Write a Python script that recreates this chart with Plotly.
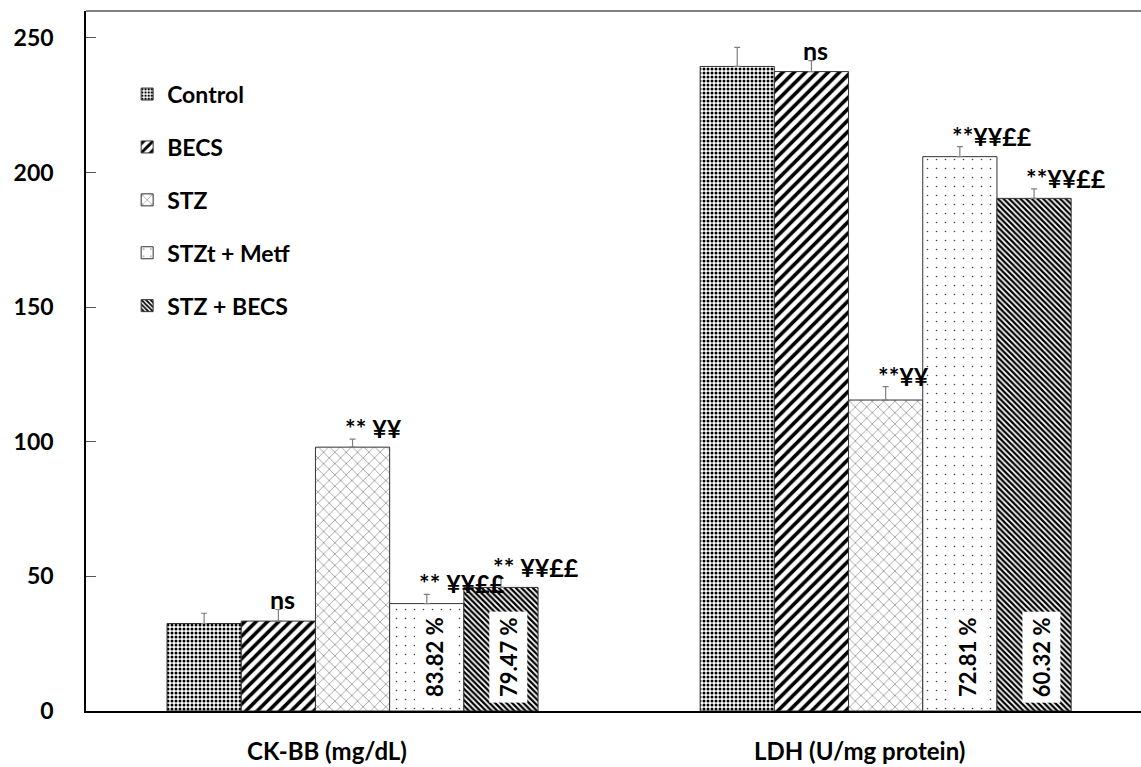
import plotly.graph_objects as go

categories = ["CK-BB (mg/dL)", "LDH (U/mg protein)"]
groups = ["Control", "BECS", "STZ", "STZt + Metf", "STZ + BECS"]

ck_values = [32.5, 33.4, 98.0, 39.9, 45.9]
ck_errors = [3.8, 4.3, 3.0, 3.4, 3.4]
ldh_values = [239.4, 237.5, 115.5, 205.9, 190.4]
ldh_errors = [7.1, 4.1, 5.0, 3.7, 3.5]

ck_sig = ["", "ns", "** ¥¥", "** ¥¥££", "** ¥¥££"]
ldh_sig = ["", "ns", "**¥¥", "**¥¥££", "**¥¥££"]
ck_pct = ["", "", "", "83.82 %", "79.47 %"]
ldh_pct = ["", "", "", "72.81 %", "60.32 %"]

y_ticks = [0, 50, 100, 150, 200, 250]

patterns = [
    dict(shape=".", size=4, solidity=0.45, fgcolor="#000000", fgopacity=1, bgcolor="white", fillmode="overlay"),
    dict(shape="/", size=8, solidity=0.45, fgcolor="#000000", fgopacity=1, bgcolor="white", fillmode="overlay"),
    dict(shape="x", size=8, solidity=0.15, fgcolor="#777777", fgopacity=1, bgcolor="white", fillmode="overlay"),
    dict(shape=".", size=9, solidity=0.025, fgcolor="#444444", fgopacity=1, bgcolor="white", fillmode="overlay"),
    dict(shape="\\", size=4, solidity=0.55, fgcolor="#000000", fgopacity=1, bgcolor="white", fillmode="overlay"),
]

FONT = "Lato"
W = "bold"
bargap = 0.304
bw = (1 - bargap) / len(groups)

fig = go.Figure()
for i, g in enumerate(groups):
    vals = [ck_values[i], ldh_values[i]]
    errs = [ck_errors[i], ldh_errors[i]]
    fig.add_trace(go.Bar(
        x=[0, 1], y=vals, name=g, legendgroup=g,
        marker=dict(color="white", pattern=patterns[i], line=dict(color="#333333", width=1)),
        error_y=dict(type="data", symmetric=False, array=errs, arrayminus=[0, 0],
                     color="#808080", thickness=1.2, width=3),
    ))

annotations = []
for ci, (vals, errs, sig, pct) in enumerate([
        (ck_values, ck_errors, ck_sig, ck_pct),
        (ldh_values, ldh_errors, ldh_sig, ldh_pct)]):
    for i in range(len(groups)):
        xc = ci + (i - (len(groups) - 1) / 2) * bw
        if sig[i]:
            annotations.append(dict(
                x=xc, y=vals[i] + errs[i], xref="x", yref="y", text=sig[i],
                showarrow=False, xanchor="left", yanchor="bottom", xshift=-10, yshift=-6,
                font=dict(family=FONT, size=25, color="black", weight=W)))
        if pct[i]:
            annotations.append(dict(
                x=xc, y=20, xref="x", yref="y", text=pct[i], textangle=-90,
                showarrow=False, xanchor="center", yanchor="middle", xshift=7,
                bgcolor="white", borderpad=5,
                font=dict(family=FONT, size=22, color="black", weight=W)))
    annotations.append(dict(
        x=ci, y=0, xref="x", yref="paper", text=categories[ci], showarrow=False,
        xanchor="center", yanchor="top", xshift=-26, yshift=-23,
        font=dict(family=FONT, size=24, color="black", weight=W)))

fig.update_layout(
    width=1141, height=767,
    margin=dict(l=86, r=0, t=11, b=56),
    paper_bgcolor="white", plot_bgcolor="white",
    barmode="group", bargap=bargap, bargroupgap=0,
    showlegend=True,
    legend=dict(x=0.039, y=0.912, xanchor="left", yanchor="top",
                font=dict(family=FONT, size=23, color="black", weight=W),
                tracegroupgap=20, bgcolor="rgba(0,0,0,0)", itemwidth=30),
    annotations=annotations,
    shapes=[dict(type="line", xref="paper", yref="paper", x0=0, x1=1, y0=1, y1=1,
                 line=dict(color="#808080", width=2))],
    xaxis=dict(range=[-0.5, 1.479], showticklabels=False, ticks="",
               showline=True, linecolor="black", linewidth=1.5, showgrid=False,
               zeroline=False, tickvals=[0, 1]),
    yaxis=dict(range=[0, 260], tickvals=y_ticks, ticks="inside", ticklen=10,
               tickcolor="#555555", showline=True, linecolor="black", linewidth=1.5,
               showgrid=False, zeroline=False, ticklabelstandoff=26,
               tickfont=dict(family=FONT, size=23, color="black", weight=W)),
)

fig.write_html("out.html")
